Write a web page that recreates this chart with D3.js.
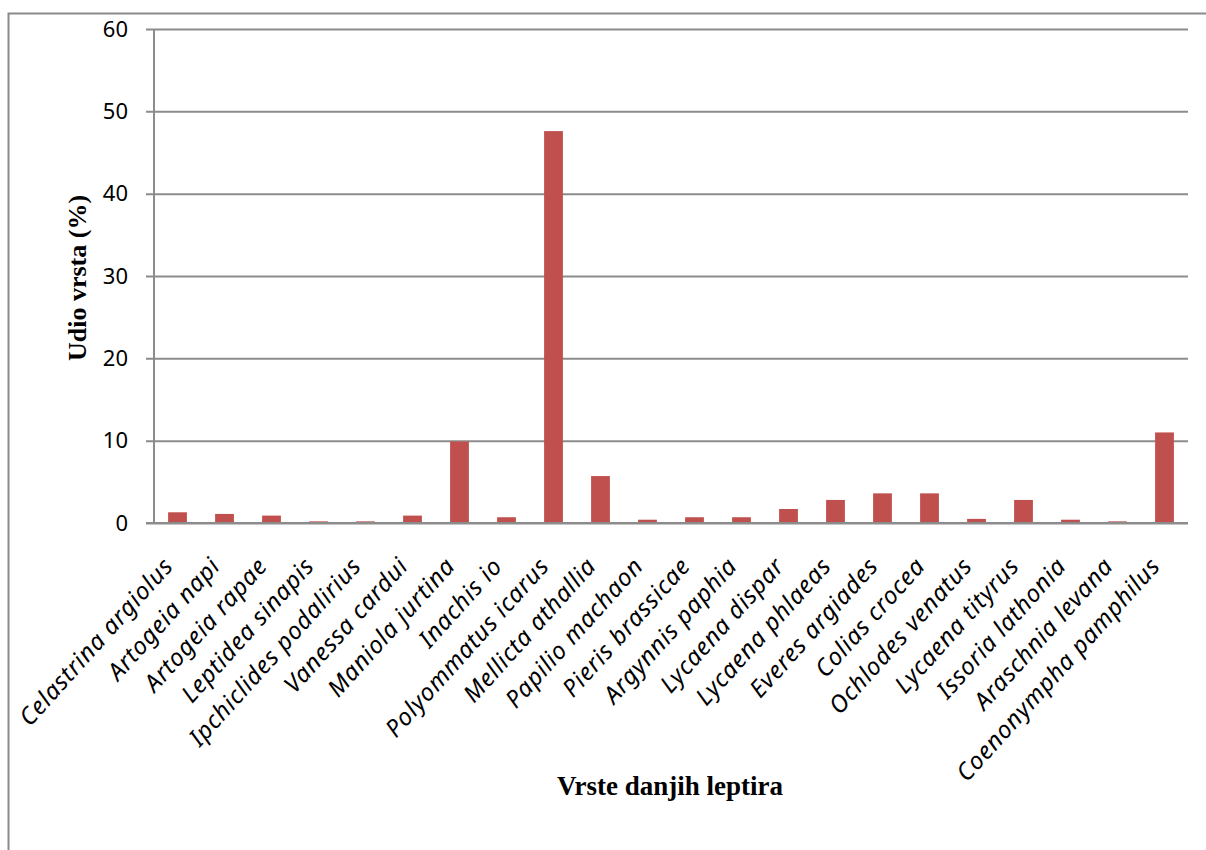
<!DOCTYPE html>
<html>
<head>
<meta charset="utf-8">
<script src="https://cdn.jsdelivr.net/npm/d3@7"></script>
<style>
  body { margin: 0; background: #fff; }
</style>
</head>
<body>
<div id="chart"></div>
<script>
const species = [
  "Celastrina argiolus", "Artogeia napi", "Artogeia rapae", "Leptidea sinapis",
  "Ipchiclides podalirius", "Vanessa cardui", "Maniola jurtina", "Inachis io",
  "Polyommatus icarus", "Mellicta athallia", "Papilio machaon", "Pieris brassicae",
  "Argynnis paphia", "Lycaena dispar", "Lycaena phlaeas", "Everes argiades",
  "Colias crocea", "Ochlodes venatus", "Lycaena tityrus", "Issoria lathonia",
  "Araschnia levana", "Coenonympha pamphilus"
]
const shares = [1.3, 1.1, 0.9, 0.2, 0.2, 0.9, 9.9, 0.7, 47.6, 5.7, 0.4, 0.7,
  0.7, 1.7, 2.8, 3.6, 3.6, 0.5, 2.8, 0.4, 0.2, 11.0]
const yTicks = [0, 10, 20, 30, 40, 50, 60]

const W = 1206, H = 850
const MARGIN = { LEFT: 154, RIGHT: 18, TOP: 29, BOTTOM: 327 }
const WIDTH = W - MARGIN.LEFT - MARGIN.RIGHT
const HEIGHT = H - MARGIN.TOP - MARGIN.BOTTOM

const svg = d3.select("#chart").append("svg")
  .attr("width", W)
  .attr("height", H)

// outer frame
svg.append("rect")
  .attr("x", 8.5).attr("y", 13.5)
  .attr("width", W + 10).attr("height", H + 10)
  .attr("fill", "none")
  .attr("stroke", "#8a8a8a")
  .attr("stroke-width", 2)

const g = svg.append("g")
  .attr("transform", `translate(${MARGIN.LEFT}, ${MARGIN.TOP})`)

const x = d3.scaleBand()
  .domain(species)
  .range([0, WIDTH])
  .paddingInner(0.6)
  .paddingOuter(0.3)

const y = d3.scaleLinear()
  .domain([0, 60])
  .range([HEIGHT, 0])

// gridlines + y axis
const yAxisCall = d3.axisLeft(y)
  .tickValues(yTicks)
  .tickSize(-WIDTH)
  .tickPadding(26)
g.append("g")
  .attr("class", "y axis")
  .call(yAxisCall)
  .call(ax => {
    ax.select(".domain").remove()
    ax.selectAll(".tick line")
      .attr("x1", -8)
      .attr("stroke", "#8c8c8c")
      .attr("stroke-width", 2)
    ax.selectAll(".tick text")
      .attr("font-family", "Noto Sans")
      .attr("font-size", "22px")
      .attr("fill", "#000")
  })

g.append("line")
  .attr("x1", 0).attr("x2", 0)
  .attr("y1", 0).attr("y2", HEIGHT)
  .attr("stroke", "#8c8c8c")
  .attr("stroke-width", 2)

// bars
g.selectAll("rect.bar")
  .data(shares)
  .enter().append("rect")
  .attr("class", "bar")
  .attr("x", (d, i) => x(species[i]))
  .attr("y", d => y(d))
  .attr("width", x.bandwidth())
  .attr("height", d => HEIGHT - y(d))
  .attr("fill", "#c0504d")

// x axis baseline
g.append("line")
  .attr("x1", -8).attr("x2", WIDTH)
  .attr("y1", HEIGHT).attr("y2", HEIGHT)
  .attr("stroke", "#8c8c8c")
  .attr("stroke-width", 2)

// category labels
g.selectAll("text.cat")
  .data(species)
  .enter().append("text")
  .attr("class", "cat")
  .attr("transform", d => `translate(${x(d) + x.bandwidth() / 2 - 3}, ${HEIGHT + 44}) rotate(-48)`)
  .attr("text-anchor", "end")
  .attr("font-family", "Noto Sans")
  .attr("font-style", "italic")
  .attr("font-size", "24px")
  .attr("letter-spacing", "0.8px")
  .text(d => d)

// axis titles
svg.append("text")
  .attr("x", 670)
  .attr("y", 795)
  .attr("text-anchor", "middle")
  .attr("font-family", "Liberation Serif")
  .attr("font-weight", "bold")
  .attr("font-size", "27px")
  .text("Vrste danjih leptira")

svg.append("text")
  .attr("transform", "translate(86, 278) rotate(-90)")
  .attr("text-anchor", "middle")
  .attr("font-family", "Liberation Serif")
  .attr("font-weight", "bold")
  .attr("font-size", "26px")
  .text("Udio vrsta (%)")
</script>
</body>
</html>
